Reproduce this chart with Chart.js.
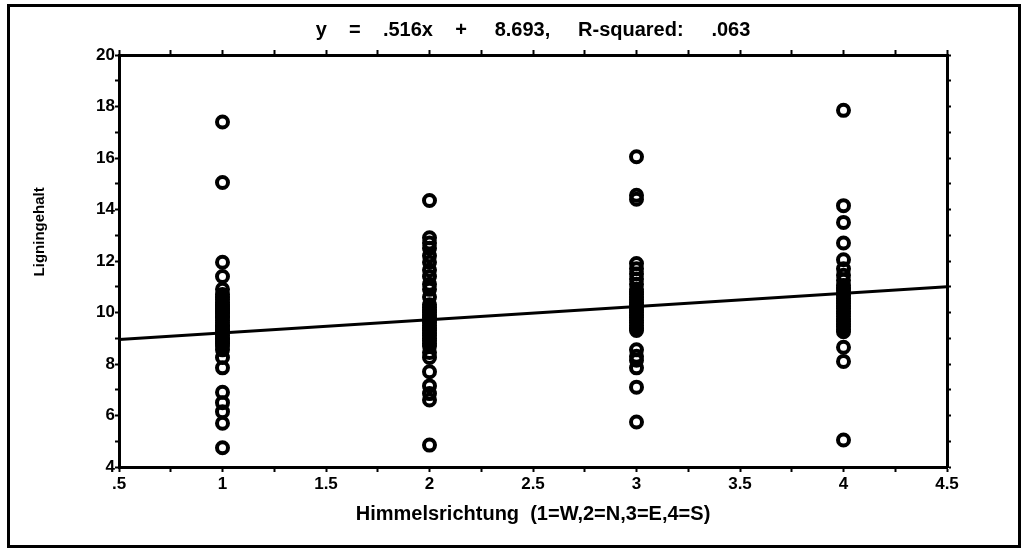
<!DOCTYPE html>
<html>
<head>
<meta charset="utf-8">
<title>Ligningehalt nach Himmelsrichtung</title>
<script src="https://cdn.jsdelivr.net/npm/chart.js@4.4.1/dist/chart.umd.min.js"></script>
<style>
  html, body { margin: 0; padding: 0; background: #fff; }
</style>
</head>
<body>
<canvas id="chart" width="1025" height="551"></canvas>
<script>
// Ligningehalt vs. Himmelsrichtung – scatter with linear fit

// ── data ──────────────────────────────────────────────────────────────────────
const DIRECTIONS = [1, 2, 3, 4]; // 1=W, 2=N, 3=E, 4=S
const LIGNIN_W = [17.4, 15.05, 11.95, 11.4, 10.9, 10.7, 10.6, 10.5, 10.4, 10.3, 10.25, 10.15,
    10.1, 10.0, 9.95, 9.85, 9.8, 9.7, 9.6, 9.5, 9.45, 9.35, 9.3, 9.2, 9.1, 9.0, 8.95, 8.85,
    8.8, 8.7, 8.55, 8.25, 7.85, 6.9, 6.5, 6.15, 5.7, 4.75];
const LIGNIN_N = [14.35, 12.9, 12.7, 12.5, 12.2, 11.95, 11.65, 11.4, 11.1, 10.9, 10.6, 10.3,
    10.2, 10.1, 10.0, 9.9, 9.8, 9.7, 9.6, 9.5, 9.4, 9.3, 9.2, 9.1, 9.0, 8.9, 8.8, 8.7,
    8.45, 8.25, 7.7, 7.15, 6.85, 6.6, 4.85];
const LIGNIN_E = [16.05, 14.55, 14.4, 11.9, 11.7, 11.5, 11.3, 11.1, 10.9, 10.8, 10.7, 10.6,
    10.5, 10.4, 10.3, 10.2, 10.1, 10.0, 9.9, 9.8, 9.7, 9.6, 9.5, 9.4, 9.3, 8.55, 8.3, 8.15,
    7.85, 7.1, 5.75];
const LIGNIN_S = [17.85, 14.15, 13.5, 12.7, 12.05, 11.7, 11.45, 11.25, 11.05, 10.95, 10.85,
    10.75, 10.65, 10.55, 10.45, 10.35, 10.25, 10.15, 10.05, 9.95, 9.85, 9.75, 9.65, 9.55,
    9.45, 9.35, 9.25, 8.65, 8.1, 5.05];

// fitted line, read at both ends of the x axis
const FIT_X = [0.5, 4.5];
const FIT_Y = [8.95, 11.0];

const X_LABELS = ['.5', '1', '1.5', '2', '2.5', '3', '3.5', '4', '4.5'];
const Y_LABELS = ['4', '6', '8', '10', '12', '14', '16', '18', '20'];

const TITLE   = 'y    =    .516x    +     8.693,     R-squared:     .063';
const X_TITLE = 'Himmelsrichtung  (1=W,2=N,3=E,4=S)';
const Y_TITLE = 'Ligningehalt';

// ── helpers ───────────────────────────────────────────────────────────────────
const FONT = "'Liberation Sans', Arial, Helvetica, sans-serif";
const INK = '#000';

function toPoints() {
    const cols = [LIGNIN_W, LIGNIN_N, LIGNIN_E, LIGNIN_S];
    const pts = [];
    cols.forEach((vals, i) => vals.forEach(v => pts.push({ x: DIRECTIONS[i], y: v })));
    return pts;
}

function xLabel(v) {
    const s = String(v).replace(/^0\./, '.');
    return X_LABELS.includes(s) ? s : '';
}

function yLabel(v) {
    const s = String(v);
    return Y_LABELS.includes(s) ? s : '';
}

const tickGrid = len => ({
    drawOnChartArea: false, drawTicks: true, tickLength: len, tickWidth: 2, tickColor: INK
});
const axisBorder = { display: true, color: INK, width: 3 };

// outer box round the whole figure
const framePlugin = {
    id: 'frame',
    beforeDraw(chart) {
        const c = chart.ctx;
        c.save();
        c.fillStyle = '#fff';
        c.fillRect(0, 0, chart.width, chart.height);
        c.strokeStyle = INK;
        c.lineWidth = 3;
        c.strokeRect(8.5, 5.5, 1011, 541);
        c.restore();
    }
};

// ── chart ─────────────────────────────────────────────────────────────────────
Chart.defaults.font.family = FONT;
Chart.defaults.color = INK;

new Chart(document.getElementById('chart').getContext('2d'), {
    data: {
        datasets: [
            {
                type: 'line',
                data: FIT_X.map((x, i) => ({ x, y: FIT_Y[i] })),
                borderColor: INK, borderWidth: 3,
                pointRadius: 0, fill: false, tension: 0
            },
            {
                type: 'scatter',
                data: toPoints(),
                pointStyle: 'circle', pointRadius: 5.5, pointBorderWidth: 4,
                pointBorderColor: INK, pointBackgroundColor: 'rgba(0,0,0,0)'
            }
        ]
    },
    options: {
        responsive: false, animation: false, devicePixelRatio: 1,
        layout: { padding: { left: 10, top: 8, right: 62, bottom: 0 } },
        plugins: {
            legend: { display: false },
            tooltip: { enabled: false },
            title: {
                display: true, text: TITLE, fullSize: false, color: INK,
                font: { size: 20, weight: 'bold' },
                padding: { top: 10, bottom: 7 }
            }
        },
        scales: {
            x: {
                type: 'linear', position: 'bottom', min: 0.5, max: 4.5,
                ticks: {
                    stepSize: 0.25, autoSkip: false, maxRotation: 0, padding: 2, color: INK,
                    font: { size: 17, weight: 'bold' }, callback: xLabel
                },
                grid: tickGrid(5), border: axisBorder,
                title: {
                    display: true, text: X_TITLE, color: INK,
                    font: { size: 20, weight: 'bold' }, padding: { top: 0, bottom: 25 }
                },
                afterFit: s => { s.height = 84; }
            },
            xTop: {
                type: 'linear', position: 'top', min: 0.5, max: 4.5,
                ticks: { stepSize: 0.25, display: false },
                grid: tickGrid(5), border: axisBorder,
                afterFit: s => { s.height = 6; }
            },
            y: {
                type: 'linear', position: 'left', min: 4, max: 20,
                ticks: {
                    stepSize: 1, autoSkip: false, padding: 0, color: INK,
                    font: { size: 17, weight: 'bold' }, callback: yLabel
                },
                grid: tickGrid(4), border: axisBorder,
                title: {
                    // leading spaces lift the label the way the original sits above centre
                    display: true, text: '              ' + Y_TITLE, color: INK,
                    font: { size: 15, weight: 'bold' }, padding: { top: 21, bottom: 0 }
                },
                afterFit: s => { s.width = 109; }
            },
            yRight: {
                type: 'linear', position: 'right', min: 4, max: 20,
                ticks: { stepSize: 1, display: false },
                grid: tickGrid(4), border: axisBorder,
                afterFit: s => { s.width = 16; }
            }
        }
    },
    plugins: [framePlugin]
});
</script>
</body>
</html>
